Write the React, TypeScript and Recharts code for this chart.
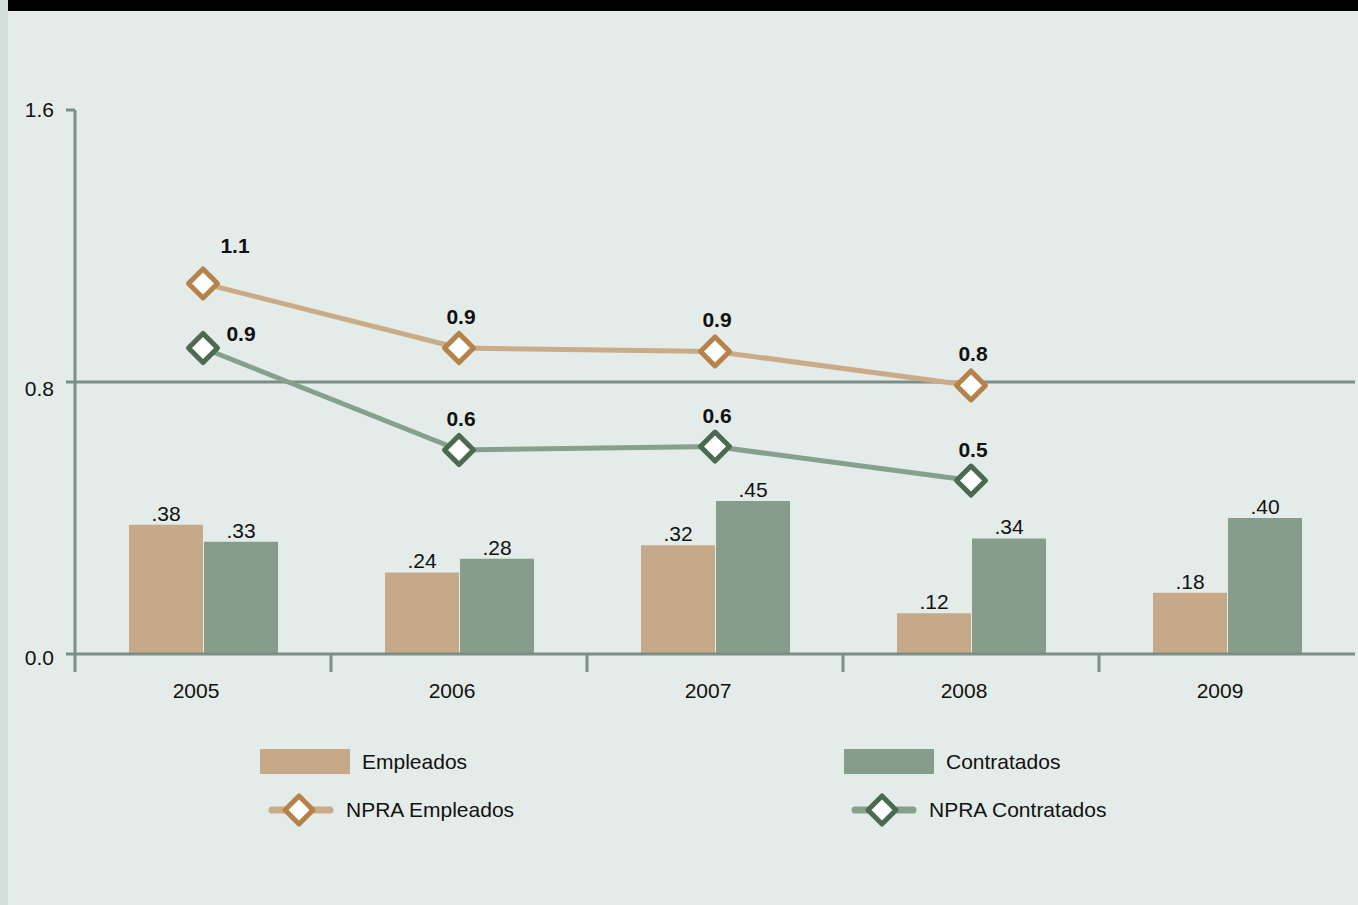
import React from 'react';
import { ComposedChart, Bar, Line, XAxis, YAxis, ReferenceLine, LabelList } from 'recharts';

const categories = ['2005', '2006', '2007', '2008', '2009'];
const empleados = [0.38, 0.24, 0.32, 0.12, 0.18];
const contratados = [0.33, 0.28, 0.45, 0.34, 0.40];
const npraEmpleados: (number | null)[] = [1.09, 0.90, 0.89, 0.79, null];
const npraContratados: (number | null)[] = [0.90, 0.60, 0.61, 0.51, null];
const yTicks = [0, 0.8, 1.6];
const seriesNames = ['Empleados', 'Contratados', 'NPRA Empleados', 'NPRA Contratados'];

const data = categories.map((c, i) => ({
  year: c,
  emp: empleados[i],
  con: contratados[i],
  npraEmp: npraEmpleados[i],
  npraCon: npraContratados[i],
}));

const W = 1358;
const H = 905;
const M = { top: 110, right: 3, bottom: 211, left: 0 };
const Y_W = 75;
const PLOT_W = W - M.left - M.right - Y_W;
const BAND = PLOT_W / categories.length;

const FONT = '"Liberation Sans", Arial, Helvetica, sans-serif';
const BG = '#e3ece9';
const AXIS = '#7b8e87';
const TAN = '#c5a988';
const GREEN = '#879d8b';
const TAN_LINE = '#c9ab88';
const TAN_MARK = '#b7814a';
const GREEN_LINE = '#87a08d';
const GREEN_MARK = '#4b6a51';

const diamondPath = (cx: number, cy: number, r: number) =>
  `M${cx},${cy - r} L${cx + r},${cy} L${cx},${cy + r} L${cx - r},${cy} Z`;

const makeDot = (stroke: string) => (props: any) => {
  const { cx, cy, index } = props;
  if (cx == null || cy == null || props.value == null) return <g key={`d${index}`} />;
  return (
    <path
      key={`d${index}`}
      d={diamondPath(cx, cy, 14.5)}
      fill="#ffffff"
      stroke={stroke}
      strokeWidth={5}
      strokeLinejoin="round"
    />
  );
};

const XTick = (props: any) => {
  const { x, y, payload } = props;
  const bx = x - BAND / 2;
  return (
    <g>
      <line x1={bx} x2={bx} y1={y} y2={y + 18} stroke={AXIS} strokeWidth={3} />
      <text x={x - 7} y={y + 44} textAnchor="middle" fontSize={21} fontFamily={FONT} fill="#111">
        {payload.value}
      </text>
    </g>
  );
};

const YTick = (props: any) => {
  const { x, y, payload } = props;
  const v = Number(payload.value);
  const dy = v >= 1.6 ? 7 : v > 0 ? 14 : 11;
  return (
    <text x={x} y={y + dy} textAnchor="end" fontSize={21} fontFamily={FONT} fill="#111">
      {v.toFixed(1)}
    </text>
  );
};

const barLabel = (props: any) => {
  const { x, y, width, value } = props;
  if (value == null) return null;
  const txt = Number(value).toFixed(2).replace(/^0/, '');
  return (
    <text x={x + width / 2} y={y - 4} textAnchor="middle" fontSize={21} fontFamily={FONT} fill="#111">
      {txt}
    </text>
  );
};

const makeLineLabel = (firstDx: number, firstDy: number) => (props: any) => {
  const { x, y, value, index } = props;
  if (value == null || x == null) return null;
  const dx = index === 0 ? firstDx : 2;
  const dy = index === 0 ? firstDy : -31;
  return (
    <text
      x={x + dx}
      y={y + dy + 7}
      textAnchor="middle"
      fontSize={21}
      fontWeight="bold"
      fontFamily={FONT}
      fill="#111"
    >
      {Number(value).toFixed(1)}
    </text>
  );
};

const LegendBox = ({ color, label, left, top }: any) => (
  <div style={{ position: 'absolute', left, top, display: 'flex', alignItems: 'center' }}>
    <div style={{ width: 90, height: 25, background: color }} />
    <span style={{ marginLeft: 12, fontSize: 21, fontFamily: FONT, color: '#111' }}>{label}</span>
  </div>
);

const LegendLine = ({ line, mark, label, left, top }: any) => (
  <div style={{ position: 'absolute', left, top, display: 'flex', alignItems: 'center' }}>
    <svg width={66} height={36}>
      <line x1={4} x2={62} y1={18} y2={18} stroke={line} strokeWidth={7} strokeLinecap="round" />
      <path d={diamondPath(31, 18, 14)} fill="#fff" stroke={mark} strokeWidth={5} strokeLinejoin="round" />
    </svg>
    <span style={{ marginLeft: 12, fontSize: 21, fontFamily: FONT, color: '#111' }}>{label}</span>
  </div>
);

export default function App() {
  return (
    <div
      style={{
        position: 'absolute',
        left: 0,
        top: 0,
        width: W,
        height: H,
        background: BG,
        overflow: 'hidden',
        fontFamily: FONT,
      }}
    >
      <div style={{ position: 'absolute', left: 0, top: 0, width: 8, height: H, background: '#d3dfdc' }} />
      <div style={{ position: 'absolute', left: 8, top: 0, width: W - 8, height: 11, background: '#000' }} />
      <div style={{ position: 'absolute', left: 0, top: 0 }}>
        <ComposedChart width={W} height={H} data={data} margin={M} barSize={74} barGap={1}>
          <XAxis
            dataKey="year"
            type="category"
            height={40}
            axisLine={{ stroke: AXIS, strokeWidth: 3 }}
            tickLine={false}
            tickSize={0}
            tickMargin={0}
            tick={<XTick />}
            interval={0}
          />
          <YAxis
            width={Y_W}
            domain={[0, 1.6]}
            ticks={yTicks}
            axisLine={{ stroke: AXIS, strokeWidth: 3 }}
            tickLine={{ stroke: AXIS, strokeWidth: 3 }}
            tickSize={9}
            tickMargin={12}
            tick={<YTick />}
            allowDataOverflow
          />
          <ReferenceLine y={0.8} stroke={AXIS} strokeWidth={3} ifOverflow="extendDomain" />
          <Bar dataKey="emp" name={seriesNames[0]} fill={TAN} isAnimationActive={false}>
            <LabelList dataKey="emp" content={barLabel} />
          </Bar>
          <Bar dataKey="con" name={seriesNames[1]} fill={GREEN} isAnimationActive={false}>
            <LabelList dataKey="con" content={barLabel} />
          </Bar>
          <Line
            dataKey="npraEmp"
            name={seriesNames[2]}
            stroke={TAN_LINE}
            strokeWidth={5}
            dot={makeDot(TAN_MARK)}
            activeDot={false}
            isAnimationActive={false}
          >
            <LabelList dataKey="npraEmp" content={makeLineLabel(32, -37)} />
          </Line>
          <Line
            dataKey="npraCon"
            name={seriesNames[3]}
            stroke={GREEN_LINE}
            strokeWidth={5}
            dot={makeDot(GREEN_MARK)}
            activeDot={false}
            isAnimationActive={false}
          >
            <LabelList dataKey="npraCon" content={makeLineLabel(38, -14)} />
          </Line>
        </ComposedChart>
      </div>
      <LegendBox color={TAN} label={seriesNames[0]} left={260} top={749} />
      <LegendBox color={GREEN} label={seriesNames[1]} left={844} top={749} />
      <LegendLine line={TAN_LINE} mark={TAN_MARK} label={seriesNames[2]} left={268} top={792} />
      <LegendLine line={GREEN_LINE} mark={GREEN_MARK} label={seriesNames[3]} left={851} top={792} />
    </div>
  );
}
